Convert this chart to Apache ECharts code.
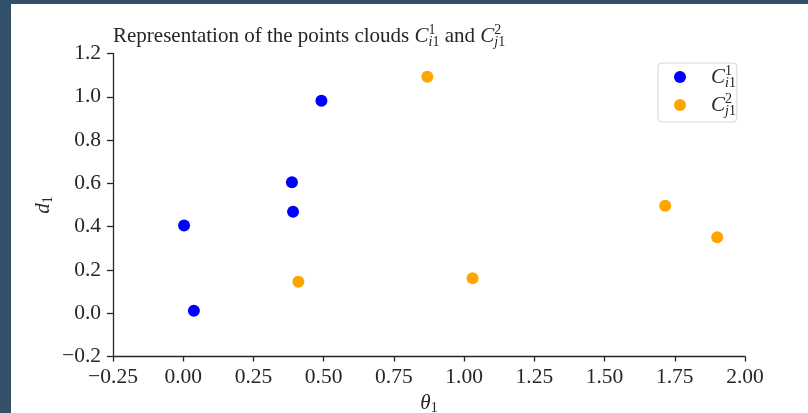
<!DOCTYPE html>
<html>
<head>
<meta charset="utf-8">
<script src="https://cdn.jsdelivr.net/npm/echarts@6/dist/echarts.min.js"></script>
<style>
html,body{margin:0;padding:0;background:#fff;}
#chart{width:808px;height:413px;}
</style>
</head>
<body>
<div id="chart"></div>
<script>
// ---- data ----
const seriesNames = ['C_i1^1', 'C_j1^2'];
const blueX = [0.003, 0.038, 0.387, 0.391, 0.492];
const blueY = [0.405, 0.011, 0.605, 0.469, 0.982];
const orangeX = [0.410, 0.869, 1.030, 1.716, 1.901];
const orangeY = [0.145, 1.093, 0.162, 0.497, 0.351];
const xTicks = [-0.25, 0.00, 0.25, 0.50, 0.75, 1.00, 1.25, 1.50, 1.75, 2.00];
const yTicks = [-0.2, 0.0, 0.2, 0.4, 0.6, 0.8, 1.0, 1.2];

const FONT = "'Liberation Serif','DejaVu Serif',serif";
const INK = '#262626';

function pairs(xs, ys){ return xs.map((x,i)=>[x, ys[i]]); }
function fmt(v, d){ const s = Math.abs(v).toFixed(d); return (v < -1e-9 ? '\u2212' : '') + s; }

const mathRich = {
  t:   {fontFamily: FONT, fontSize: 21, fontWeight: 'normal', color: INK, lineHeight: 26, verticalAlign: 'middle'},
  c:   {fontFamily: FONT, fontSize: 21, fontWeight: 'normal', fontStyle: 'italic', color: INK, lineHeight: 26, verticalAlign: 'middle'},
  sup: {fontFamily: FONT, fontSize: 14, fontWeight: 'normal', color: INK, lineHeight: 12, verticalAlign: 'top', width: 0},
  si:  {fontFamily: FONT, fontSize: 14, fontWeight: 'normal', fontStyle: 'italic', color: INK, lineHeight: 14, verticalAlign: 'bottom'},
  s1:  {fontFamily: FONT, fontSize: 14, fontWeight: 'normal', color: INK, lineHeight: 14, verticalAlign: 'bottom'}
};
const legendRich = Object.assign({}, mathRich, {
  c: Object.assign({}, mathRich.c, {padding: [0, 0, 0, 20]})
});

const chart = echarts.init(document.getElementById('chart'), null, {renderer: 'canvas', width: 808, height: 413});
chart.setOption({
  animation: false,
  backgroundColor: '#ffffff',
  graphic: [
    {type: 'rect', left: 0, top: 0, shape: {width: 11, height: 413}, style: {fill: '#33506a'}, z: 100},
    {type: 'rect', left: 0, top: 0, shape: {width: 808, height: 4}, style: {fill: '#33506a'}, z: 100}
  ],
  title: {
    text: '{t|Representation of the points clouds }{c|C}{sup|1}{si|i}{s1|1}{t| and }{c|C}{sup|2}{si|j}{s1|1}',
    left: 113, top: 23.5, padding: 0,
    textStyle: {fontWeight: 'normal', rich: mathRich}
  },
  legend: {
    orient: 'vertical',
    left: 658, top: 63,
    padding: [1, 1, 4, 16],
    itemGap: 2,
    itemWidth: 12, itemHeight: 12,
    icon: 'circle',
    borderColor: '#d6d6d6', borderWidth: 1, borderRadius: 4,
    backgroundColor: '#ffffff',
    data: seriesNames,
    formatter: function(name){
      return name === seriesNames[0]
        ? '{c|C}{sup|1}{si|i}{s1|1}'
        : '{c|C}{sup|2}{si|j}{s1|1}';
    },
    textStyle: {rich: legendRich}
  },
  grid: {left: 113, top: 53.5, width: 632, height: 303, containLabel: false, outerBoundsMode: 'none'},
  xAxis: {
    type: 'value', min: xTicks[0], max: xTicks[xTicks.length-1], interval: 0.25,
    name: '{i|\u03b8}{s|1}', nameLocation: 'middle', nameGap: 35, nameMoveOverlap: false,
    nameTextStyle: {rich: {
      i: {fontFamily: FONT, fontSize: 21, fontStyle: 'italic', color: INK, lineHeight: 24},
      s: {fontFamily: FONT, fontSize: 14, color: INK, verticalAlign: 'bottom', lineHeight: 18}
    }},
    axisLine: {show: true, onZero: false, lineStyle: {color: INK, width: 1.3}},
    axisTick: {show: true, length: 5, lineStyle: {color: INK, width: 1.3}},
    axisLabel: {color: INK, fontFamily: FONT, fontSize: 21.5, margin: 10, formatter: v => fmt(v, 2)},
    splitLine: {show: false}
  },
  yAxis: {
    type: 'value', min: yTicks[0], max: yTicks[yTicks.length-1], interval: 0.2,
    name: '{i|d}{s|1}', nameLocation: 'middle', nameGap: 58, nameMoveOverlap: false,
    nameTextStyle: {rich: {
      i: {fontFamily: FONT, fontSize: 21, fontStyle: 'italic', color: INK, lineHeight: 24},
      s: {fontFamily: FONT, fontSize: 14, color: INK, verticalAlign: 'bottom', lineHeight: 18}
    }},
    axisLine: {show: true, onZero: false, lineStyle: {color: INK, width: 1.3}},
    axisTick: {show: true, length: 6, lineStyle: {color: INK, width: 1.3}},
    axisLabel: {color: INK, fontFamily: FONT, fontSize: 21.5, margin: 12, formatter: v => fmt(v, 1)},
    splitLine: {show: false}
  },
  series: [
    {name: seriesNames[0], type: 'scatter', symbol: 'circle', symbolSize: 12,
     itemStyle: {color: '#0000ff', opacity: 1}, data: pairs(blueX, blueY)},
    {name: seriesNames[1], type: 'scatter', symbol: 'circle', symbolSize: 12,
     itemStyle: {color: '#ffa500', opacity: 1}, data: pairs(orangeX, orangeY)}
  ]
});
</script>
</body>
</html>
